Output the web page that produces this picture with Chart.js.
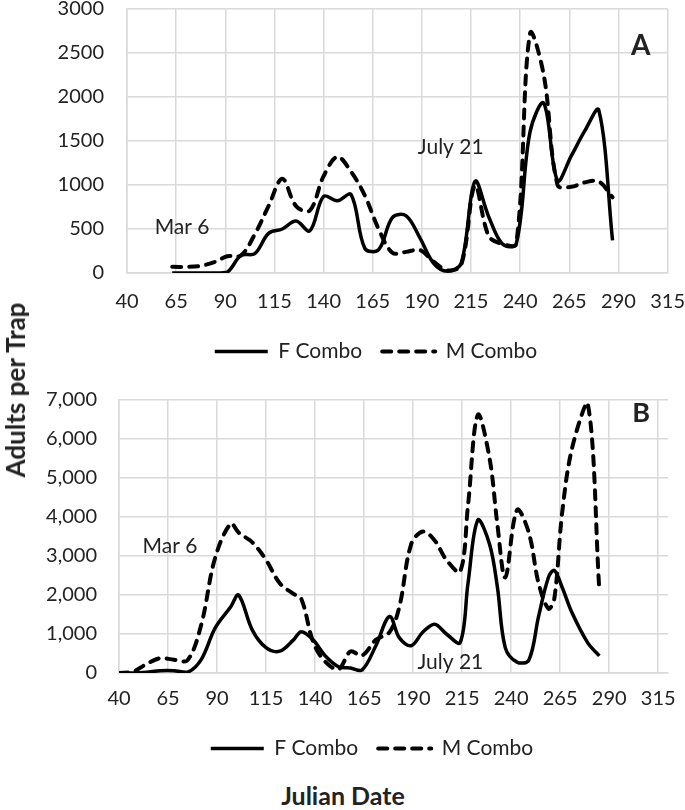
<!DOCTYPE html>
<html>
<head>
<meta charset="utf-8">
<script src="https://cdn.jsdelivr.net/npm/chart.js@4.4.0/dist/chart.umd.min.js"></script>
<style>
  html, body { margin: 0; padding: 0; background: #fff; }
  body { width: 685px; height: 810px; position: relative; overflow: hidden; font-family: Lato, sans-serif; color: #222; }
  canvas { position: absolute; left: 0; }
  #chartA { top: -3px; }
  #chartB { top: 388px; }
  .ytitle { position: absolute; left: 15px; top: 390px; transform: translate(-50%, -50%) rotate(-90deg);
            font-weight: bold; font-size: 26px; white-space: nowrap; }
  .xtitle { position: absolute; left: 343px; top: 795px; transform: translate(-50%, -50%);
            font-weight: bold; font-size: 25px; white-space: nowrap; }
</style>
</head>
<body>
<canvas id="chartA" width="685" height="375"></canvas>
<canvas id="chartB" width="685" height="381"></canvas>
<div class="ytitle">Adults per Trap</div>
<div class="xtitle">Julian Date</div>
<script>
// panel A
const daysA = [63, 70, 77, 84, 91, 98, 105, 112, 119, 126, 133, 140, 147, 154, 161, 168, 175, 182,
               189, 196, 203, 210, 217, 224, 231, 238, 245, 252, 259, 266, 273, 280, 287];
const femaleA = [0, 0, 0, 0, 10, 200, 220, 450, 500, 590, 480, 870, 820, 890, 280, 265, 630, 650,
                 400, 110, 20, 110, 1040, 640, 330, 330, 1600, 1930, 1050, 1330, 1620, 1850, 370];
const maleA = [70, 70, 80, 120, 190, 200, 440, 760, 1070, 760, 710, 1100, 1320, 1150, 880, 500, 230, 240,
               260, 130, 30, 90, 990, 420, 330, 330, 2720, 2250, 1000, 980, 1030, 1040, 860];

// panel B
const daysB = [40, 47, 54, 61, 68, 75, 82, 89, 97, 101, 108, 115, 122, 129, 133, 139, 145, 152, 158, 164,
               171, 178, 183, 189, 195, 201, 207, 214, 218, 223, 229, 233, 237, 243, 249, 254, 259, 262,
               266, 271, 279, 285];
const femaleB = [0, 0, 20, 60, 60, 20, 350, 1150, 1700, 2000, 1100, 650, 560, 850, 1060, 850, 450, 160, 130, 80,
                 700, 1450, 900, 700, 1050, 1250, 1000, 780, 2300, 3920, 3300, 2200, 650, 280, 330, 1450, 2450, 2630,
                 2200, 1550, 780, 440];
const maleB = [0, 30, 230, 380, 340, 330, 1250, 2950, 3830, 3600, 3350, 2900, 2300, 2030, 1900, 800, 300, 100, 550, 450,
               850, 1050, 1700, 3300, 3630, 3400, 2900, 2600, 4300, 6620, 5500, 3800, 2450, 4180, 3600, 2300, 1650, 1900,
               4100, 5750, 6930, 2100];

const xTicks = [40, 65, 90, 115, 140, 165, 190, 215, 240, 265, 290, 315];
const yTicksA = [0, 500, 1000, 1500, 2000, 2500, 3000];
const yTicksB = [0, 1000, 2000, 3000, 4000, 5000, 6000, 7000];
const seriesNames = ['F Combo', 'M Combo'];

const gridColor = '#d9d9d9';
const textColor = '#222';
const clear = 'rgba(0,0,0,0)';

function points(days, vals) {
    return days.map((d, i) => ({ x: d, y: vals[i] }));
}

// draws the small text notes at data positions
const notesPlugin = {
    id: 'notes',
    afterDatasetsDraw(chart, args, opts) {
        const { ctx, scales } = chart;
        ctx.save();
        ctx.fillStyle = textColor;
        ctx.textAlign = 'center';
        ctx.textBaseline = 'middle';
        opts.items.forEach(it => {
            ctx.font = it.font;
            ctx.fillText(it.text, scales.x.getPixelForValue(it.x), scales.y.getPixelForValue(it.y));
        });
        ctx.restore();
    }
};

// legend sits a bit left of the plot centre in the original
const legendShift = {
    id: 'legendShift',
    afterLayout(chart, args, opts) {
        chart.legend.left += opts.dx;
        chart.legend.right += opts.dx;
    }
};

function legendLabels(chart) {
    const items = Chart.defaults.plugins.legend.labels.generateLabels(chart);
    items.forEach(it => {
        const ds = chart.data.datasets[it.datasetIndex];
        it.lineDash = ds.borderDash || [];
        it.lineWidth = ds.borderWidth;
        it.lineCap = ds.borderCapStyle || 'butt';
        it.strokeStyle = '#000';
    });
    return items;
}

function makeChart(id, cfg) {
    const ctx = document.getElementById(id).getContext('2d');
    return new Chart(ctx, {
        type: 'line',
        data: {
            datasets: [{
                label: seriesNames[0],
                data: points(cfg.days, cfg.female),
                borderColor: '#000',
                borderWidth: 3.5,
                tension: 0.35,
                pointRadius: 0,
                fill: false
            }, {
                label: seriesNames[1],
                data: points(cfg.days, cfg.male),
                borderColor: '#000',
                borderWidth: 4,
                borderDash: [9, 8],
                borderCapStyle: 'round',
                tension: 0.35,
                pointRadius: 0,
                fill: false
            }]
        },
        options: {
            responsive: false,
            animation: false,
            layout: { padding: { left: 10, right: 17, top: 0, bottom: 0 } },
            scales: {
                x: {
                    type: 'linear',
                    min: 40,
                    max: cfg.xMax,
                    afterBuildTicks: s => { s.ticks = xTicks.map(v => ({ value: v })); },
                    afterFit: s => { s.height = cfg.xHeight; },
                    grid: { color: gridColor, lineWidth: 1.5, drawTicks: true, tickLength: cfg.xGap, tickColor: clear },
                    border: { color: gridColor, width: 1.5 },
                    ticks: { color: textColor, font: { family: 'Lato', size: 20 }, padding: 0, maxRotation: 0 }
                },
                y: {
                    min: 0,
                    max: cfg.yTicks[cfg.yTicks.length - 1],
                    afterBuildTicks: s => { s.ticks = cfg.yTicks.map(v => ({ value: v })); },
                    afterFit: s => { s.width = cfg.yWidth; },
                    grid: { color: gridColor, lineWidth: 1.5, drawTicks: true, tickLength: cfg.yGap, tickColor: clear },
                    border: { color: gridColor, width: 1.5 },
                    ticks: {
                        color: textColor,
                        font: { family: 'Lato', size: 20 },
                        padding: 0,
                        callback: cfg.fmt
                    }
                }
            },
            plugins: {
                legend: {
                    position: 'bottom',
                    labels: {
                        color: textColor,
                        font: { family: 'Lato', size: 21 },
                        usePointStyle: true,
                        pointStyle: 'line',
                        pointStyleWidth: 53,
                        padding: 20,
                        generateLabels: legendLabels
                    }
                },
                tooltip: { enabled: false },
                notes: { items: cfg.notes },
                legendShift: { dx: cfg.legendDx }
            }
        },
        plugins: [notesPlugin, legendShift]
    });
}

makeChart('chartA', {
    days: daysA, female: femaleA, male: maleA,
    yTicks: yTicksA, xMax: 315,
    fmt: v => String(v),
    yWidth: 117, xHeight: 48, xGap: 17, yGap: 23, legendDx: 37,
    notes: [
        { text: 'Mar 6', x: 68, y: 525, font: '21px Lato' },
        { text: 'July 21', x: 204.7, y: 1426, font: '21px Lato' },
        { text: 'A', x: 301.3, y: 2579, font: 'bold 28px Lato' }
    ]
});

makeChart('chartB', {
    days: daysB, female: femaleB, male: maleB,
    yTicks: yTicksB, xMax: 320,
    fmt: v => v.toLocaleString('en-US'),
    yWidth: 109, xHeight: 45, xGap: 14, yGap: 22, legendDx: 33,
    notes: [
        { text: 'Mar 6', x: 66, y: 3238, font: '21px Lato' },
        { text: 'July 21', x: 209, y: 264, font: '21px Lato' },
        { text: 'B', x: 306.3, y: 6649, font: 'bold 27px Lato' }
    ]
});
</script>
</body>
</html>
